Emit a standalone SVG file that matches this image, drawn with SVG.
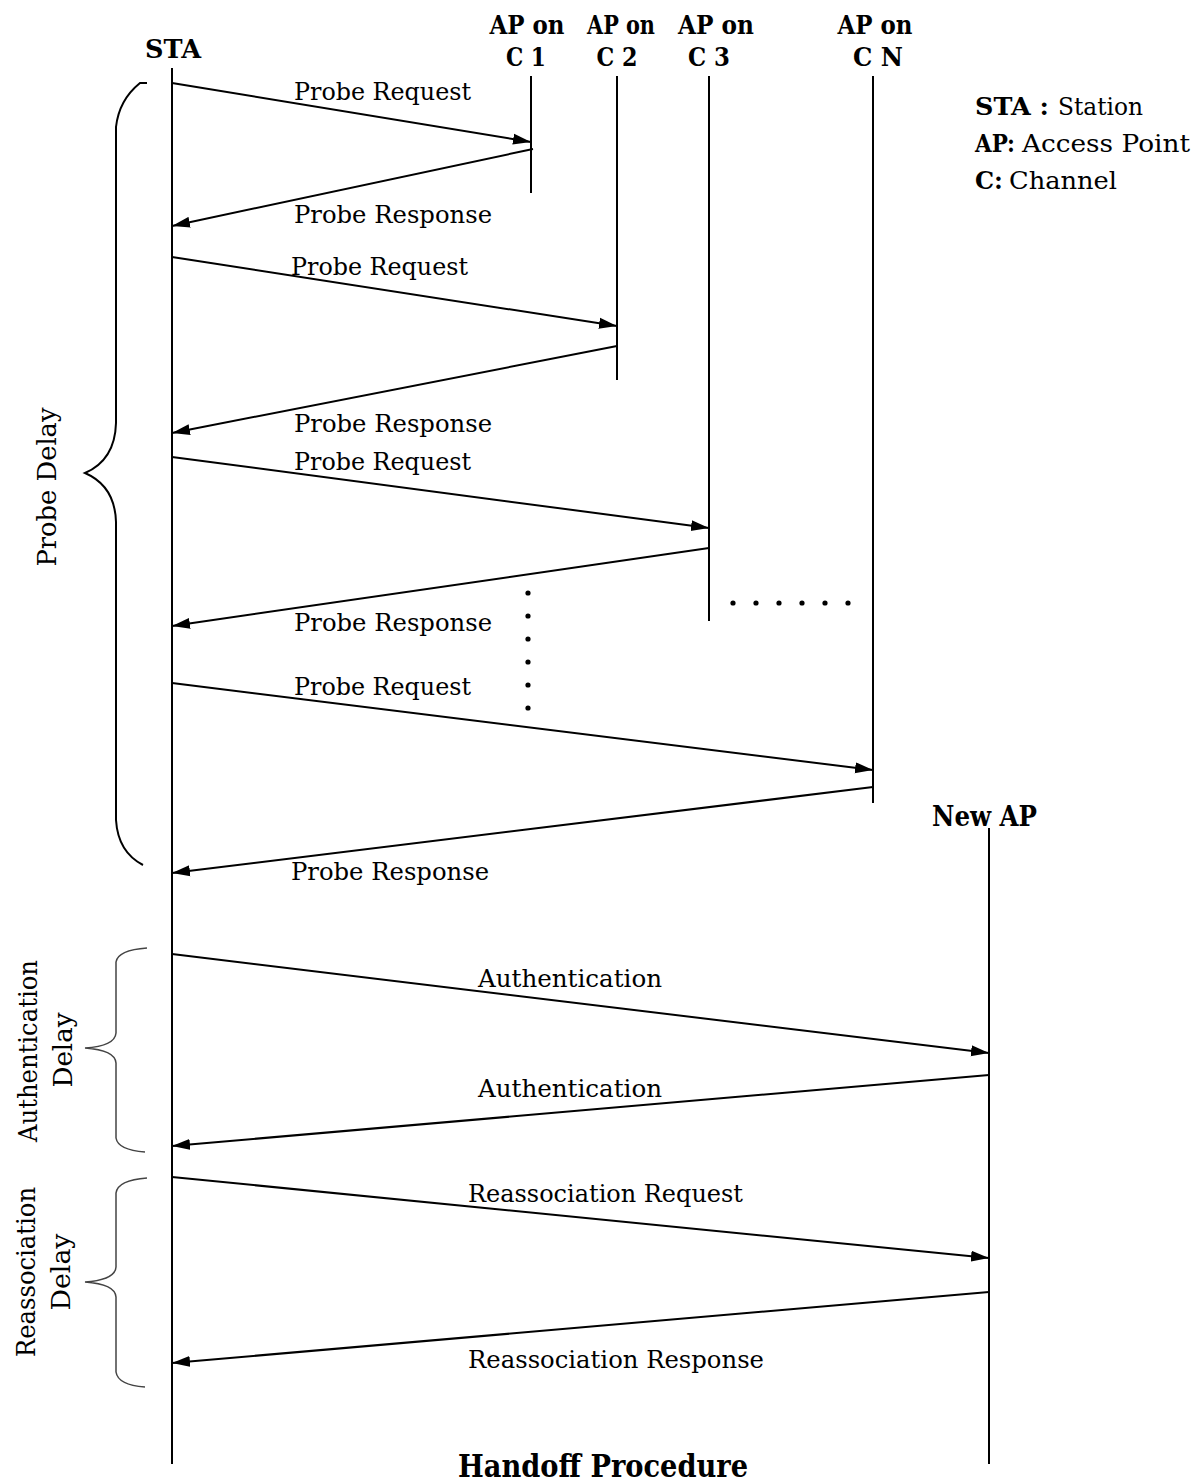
<svg xmlns="http://www.w3.org/2000/svg" width="1196" height="1484" viewBox="0 0 1196 1484">
<style>
text{font-family:"DejaVu Serif","Liberation Serif",serif;fill:#000}
.lbl{font-size:25px}
.hdr{font-size:26px;font-weight:bold}
.leg{font-size:24px}
.legb{font-size:25px;font-weight:bold}
.life{stroke:#000;stroke-width:2;fill:none}
.msg{stroke:#000;stroke-width:2;fill:none;marker-end:url(#ah)}
.brace{stroke:#000;stroke-width:2;fill:none}
.brace2{stroke:#444;stroke-width:1.5;fill:none}
.dot{fill:#000}
</style>
<defs>
<marker id="ah" markerUnits="userSpaceOnUse" markerWidth="19" markerHeight="12" refX="18" refY="6" orient="auto">
<path d="M0,0.5 L18,6 L0,11.5 z" fill="#000"/>
</marker>
</defs>
<rect width="1196" height="1484" fill="#fff"/>

<g id="sta">
<text class="hdr" x="173" y="58" text-anchor="middle" textLength="56" lengthAdjust="spacingAndGlyphs">STA</text>
<line class="life" x1="172" y1="68" x2="172" y2="1464"/>
</g>
<g id="ap-c1">
<text class="hdr" x="527" y="34" text-anchor="middle" textLength="75" lengthAdjust="spacingAndGlyphs">AP on</text>
<text class="hdr" x="526" y="66" text-anchor="middle" textLength="40" lengthAdjust="spacingAndGlyphs">C 1</text>
<line class="life" x1="531" y1="76" x2="531" y2="193"/>
</g>
<g id="ap-c2">
<text class="hdr" x="621" y="34" text-anchor="middle" textLength="68" lengthAdjust="spacingAndGlyphs">AP on</text>
<text class="hdr" x="617" y="66" text-anchor="middle" textLength="41" lengthAdjust="spacingAndGlyphs">C 2</text>
<line class="life" x1="617" y1="76" x2="617" y2="380"/>
</g>
<g id="ap-c3">
<text class="hdr" x="716" y="34" text-anchor="middle" textLength="76" lengthAdjust="spacingAndGlyphs">AP on</text>
<text class="hdr" x="709" y="66" text-anchor="middle" textLength="42" lengthAdjust="spacingAndGlyphs">C 3</text>
<line class="life" x1="709" y1="76" x2="709" y2="621"/>
</g>
<g id="ap-cn">
<text class="hdr" x="875" y="34" text-anchor="middle" textLength="75" lengthAdjust="spacingAndGlyphs">AP on</text>
<text class="hdr" x="878" y="66" text-anchor="middle" textLength="50" lengthAdjust="spacingAndGlyphs">C N</text>
<line class="life" x1="873" y1="76" x2="873" y2="803"/>
</g>
<g id="new-ap">
<text x="932" y="826" textLength="105" lengthAdjust="spacingAndGlyphs" style="font-size:28px;font-weight:bold">New AP</text>
<line class="life" x1="989" y1="828" x2="989" y2="1464"/>
</g>

<g id="legend">
<text class="legb" x="975" y="115" textLength="74" lengthAdjust="spacingAndGlyphs">STA :</text>
<text class="leg" x="1058" y="115" textLength="85" lengthAdjust="spacingAndGlyphs">Station</text>
<text class="legb" x="975" y="152" textLength="40" lengthAdjust="spacingAndGlyphs">AP:</text>
<text class="leg" x="1022" y="152" textLength="168" lengthAdjust="spacingAndGlyphs">Access Point</text>
<text class="legb" x="975" y="189" textLength="28" lengthAdjust="spacingAndGlyphs">C:</text>
<text class="leg" x="1009" y="189" textLength="108" lengthAdjust="spacingAndGlyphs">Channel</text>
</g>

<g id="connectors">
<line class="msg" x1="172" y1="83" x2="531" y2="142"/>
<line class="msg" x1="533" y1="149" x2="172" y2="226"/>
<line class="msg" x1="172" y1="257" x2="617" y2="326"/>
<line class="msg" x1="617" y1="346" x2="172" y2="433"/>
<line class="msg" x1="172" y1="457" x2="709" y2="528"/>
<line class="msg" x1="709" y1="548" x2="172" y2="626"/>
<line class="msg" x1="172" y1="683" x2="873" y2="770"/>
<line class="msg" x1="873" y1="787" x2="172" y2="873"/>
<line class="msg" x1="172" y1="954" x2="989" y2="1053"/>
<line class="msg" x1="989" y1="1075" x2="172" y2="1146"/>
<line class="msg" x1="172" y1="1177" x2="989" y2="1258"/>
<line class="msg" x1="989" y1="1292" x2="172" y2="1363"/>
</g>

<g id="message-labels">
<text class="lbl" x="294" y="100" textLength="177" lengthAdjust="spacingAndGlyphs">Probe Request</text>
<text class="lbl" x="294" y="223" textLength="198" lengthAdjust="spacingAndGlyphs">Probe Response</text>
<text class="lbl" x="291" y="275" textLength="177" lengthAdjust="spacingAndGlyphs">Probe Request</text>
<text class="lbl" x="294" y="432" textLength="198" lengthAdjust="spacingAndGlyphs">Probe Response</text>
<text class="lbl" x="294" y="470" textLength="177" lengthAdjust="spacingAndGlyphs">Probe Request</text>
<text class="lbl" x="294" y="631" textLength="198" lengthAdjust="spacingAndGlyphs">Probe Response</text>
<text class="lbl" x="294" y="695" textLength="177" lengthAdjust="spacingAndGlyphs">Probe Request</text>
<text class="lbl" x="291" y="880" textLength="198" lengthAdjust="spacingAndGlyphs">Probe Response</text>
<text class="lbl" x="478" y="987" textLength="184" lengthAdjust="spacingAndGlyphs">Authentication</text>
<text class="lbl" x="478" y="1097" textLength="184" lengthAdjust="spacingAndGlyphs">Authentication</text>
<text class="lbl" x="468" y="1202" textLength="275" lengthAdjust="spacingAndGlyphs">Reassociation Request</text>
<text class="lbl" x="468" y="1368" textLength="296" lengthAdjust="spacingAndGlyphs">Reassociation Response</text>
</g>

<g id="ellipsis">
<circle class="dot" cx="528" cy="593" r="2.6"/>
<circle class="dot" cx="528" cy="616" r="2.6"/>
<circle class="dot" cx="528" cy="639" r="2.6"/>
<circle class="dot" cx="528" cy="662" r="2.6"/>
<circle class="dot" cx="528" cy="685" r="2.6"/>
<circle class="dot" cx="528" cy="708" r="2.6"/>
<circle class="dot" cx="733" cy="603" r="2.6"/>
<circle class="dot" cx="756" cy="603" r="2.6"/>
<circle class="dot" cx="779" cy="603" r="2.6"/>
<circle class="dot" cx="802" cy="603" r="2.6"/>
<circle class="dot" cx="825" cy="603" r="2.6"/>
<circle class="dot" cx="848" cy="603" r="2.6"/>
</g>

<g id="probe-delay">
<path class="brace" d="M147,83 L140,83 Q119,100 116,127 L116,423 Q115,460 85,473 Q115,486 116,522 L116,820 Q118,852 143,865"/>
<text class="lbl" transform="translate(56,487) rotate(-90)" text-anchor="middle" textLength="159" lengthAdjust="spacingAndGlyphs" style="font-size:26px">Probe Delay</text>
</g>
<g id="auth-delay">
<path class="brace2" d="M147,948 Q118,950 116,962 L116,1033 Q115,1046 85,1048 Q115,1050 116,1063 L116,1138 Q118,1150 145,1152"/>
<text class="lbl" transform="translate(37,1051) rotate(-90)" text-anchor="middle" textLength="182" lengthAdjust="spacingAndGlyphs" style="font-size:26px">Authentication</text>
<text class="lbl" transform="translate(72,1050) rotate(-90)" text-anchor="middle" textLength="75" lengthAdjust="spacingAndGlyphs" style="font-size:26px">Delay</text>
</g>
<g id="reassoc-delay">
<path class="brace2" d="M147,1178 Q118,1180 116,1193 L116,1267 Q115,1280 85,1282 Q115,1284 116,1297 L116,1372 Q118,1385 145,1387"/>
<text class="lbl" transform="translate(35,1272) rotate(-90)" text-anchor="middle" textLength="170" lengthAdjust="spacingAndGlyphs" style="font-size:26px">Reassociation</text>
<text class="lbl" transform="translate(70,1272) rotate(-90)" text-anchor="middle" textLength="77" lengthAdjust="spacingAndGlyphs" style="font-size:26px">Delay</text>
</g>

<g id="title">
<text x="458" y="1477" textLength="290" lengthAdjust="spacingAndGlyphs" style="font-size:31px;font-weight:bold">Handoff Procedure</text>
</g>
</svg>
